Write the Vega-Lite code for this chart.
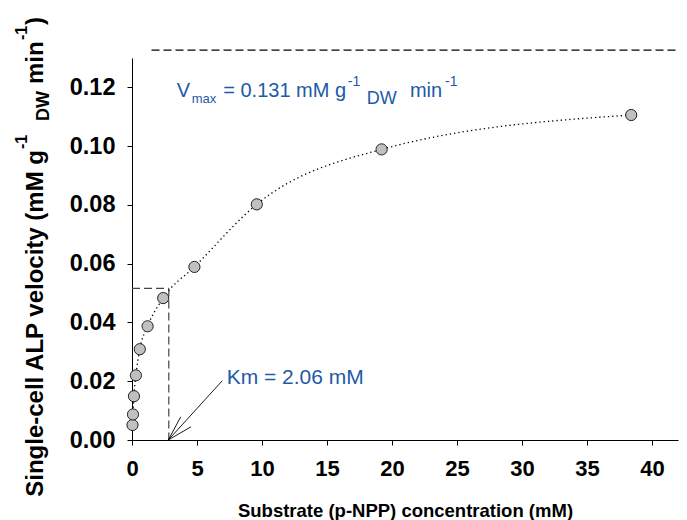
{
  "$schema": "https://vega.github.io/schema/vega-lite/v6.json",
  "width": 546,
  "height": 382,
  "autosize": {"type": "none"},
  "padding": {"left": 132, "top": 58, "right": 9, "bottom": 80},
  "background": "white",
  "config": {
    "view": {"stroke": null},
    "font": "Liberation Sans",
    "axis": {
      "grid": false,
      "domainColor": "#000",
      "domainWidth": 1,
      "tickColor": "#000",
      "tickWidth": 1,
      "tickSize": 5,
      "labelColor": "#000",
      "titleColor": "#000",
      "labelFont": "Liberation Sans",
      "labelFontWeight": "bold",
      "labelFontSize": 22,
      "titleFont": "Liberation Sans",
      "titleFontWeight": "bold",
      "titleFontSize": 18.5
    }
  },
  "datasets": {
    "pts": [
      {"s": 0.0375, "v": 0.0051},
      {"s": 0.075, "v": 0.0087},
      {"s": 0.15, "v": 0.0149},
      {"s": 0.3, "v": 0.0220},
      {"s": 0.6, "v": 0.0309},
      {"s": 1.2, "v": 0.0387},
      {"s": 2.4, "v": 0.0483},
      {"s": 4.8, "v": 0.0589},
      {"s": 9.6, "v": 0.0802},
      {"s": 19.2, "v": 0.0989},
      {"s": 38.4, "v": 0.1106}
    ]
  },
  "layer": [
    {
      "data": {"values": [{"x": 1.5, "x2": 42.1, "y": 0.1327, "y2": 0.1327}]},
      "mark": {"type": "rule", "color": "#000", "strokeWidth": 1.2, "strokeDash": [8, 4]},
      "encoding": {
        "x": {"field": "x", "type": "quantitative", "scale": {"domain": [0, 42], "nice": false, "zero": false},
          "axis": {"values": [0, 5, 10, 15, 20, 25, 30, 35, 40], "labelFlush": false, "labelPadding": 13, "title": "Substrate (p-NPP) concentration (mM)", "titlePadding": 22}},
        "x2": {"field": "x2"},
        "y": {"field": "y", "type": "quantitative", "scale": {"domain": [0, 0.13], "nice": false, "zero": false},
          "axis": {"values": [0, 0.02, 0.04, 0.06, 0.08, 0.1, 0.12], "format": ".2f", "labelFontSize": 23.5, "labelFlush": false, "labelPadding": 12, "title": null}},
        "y2": {"field": "y2"}
      }
    },
    {
      "data": {"values": [
        {"x": 0, "x2": 2.83, "y": 0.0516, "y2": 0.0516},
        {"x": 2.83, "x2": 2.83, "y": 0.0516, "y2": 0}
      ]},
      "mark": {"type": "rule", "color": "#444", "strokeWidth": 1.2, "strokeDash": [8, 4]},
      "encoding": {
        "x": {"field": "x", "type": "quantitative"},
        "x2": {"field": "x2"},
        "y": {"field": "y", "type": "quantitative"},
        "y2": {"field": "y2"}
      }
    },
    {
      "data": {"values": [
        {"x": 2.79, "x2": 6.95, "y": 0, "y2": 0.0202},
        {"x": 2.79, "x2": 3.75, "y": 0, "y2": 0.0079},
        {"x": 2.79, "x2": 4.54, "y": 0, "y2": 0.0045}
      ]},
      "mark": {"type": "rule", "color": "#000", "strokeWidth": 0.9},
      "encoding": {
        "x": {"field": "x", "type": "quantitative"},
        "x2": {"field": "x2"},
        "y": {"field": "y", "type": "quantitative"},
        "y2": {"field": "y2"}
      }
    },
    {
      "data": {"name": "pts"},
      "mark": {"type": "line", "color": "#000", "strokeWidth": 1.3, "strokeDash": [1.3, 3], "interpolate": "monotone"},
      "encoding": {
        "x": {"field": "s", "type": "quantitative"},
        "y": {"field": "v", "type": "quantitative"},
        "order": {"field": "s"}
      }
    },
    {
      "data": {"name": "pts"},
      "mark": {"type": "point", "shape": "circle", "filled": true, "size": 125, "fill": "#c0c0c0", "stroke": "#222", "strokeWidth": 1, "opacity": 1},
      "encoding": {
        "x": {"field": "s", "type": "quantitative"},
        "y": {"field": "v", "type": "quantitative"}
      }
    },
    {
      "data": {"values": [
        {"x": 3.44, "y": 0.11683, "t": "V"},
        {"x": 7.02, "y": 0.11683, "t": "= 0.131 mM g"},
        {"x": 21.38, "y": 0.11683, "t": "min"}
      ]},
      "mark": {"type": "text", "align": "left", "baseline": "alphabetic", "fontSize": 20, "color": "#1E5AA8", "font": "Liberation Sans"},
      "encoding": {
        "x": {"field": "x", "type": "quantitative"},
        "y": {"field": "y", "type": "quantitative"},
        "text": {"field": "t"}
      }
    },
    {
      "data": {"values": [{"x": 4.59, "y": 0.11479, "t": "max"}]},
      "mark": {"type": "text", "align": "left", "baseline": "alphabetic", "fontSize": 13, "color": "#1E5AA8", "font": "Liberation Sans"},
      "encoding": {
        "x": {"field": "x", "type": "quantitative"},
        "y": {"field": "y", "type": "quantitative"},
        "text": {"field": "t"}
      }
    },
    {
      "data": {"values": [
        {"x": 16.6, "y": 0.12047, "t": "-1"},
        {"x": 24.08, "y": 0.12047, "t": "-1"}
      ]},
      "mark": {"type": "text", "align": "left", "baseline": "alphabetic", "fontSize": 14, "color": "#1E5AA8", "font": "Liberation Sans"},
      "encoding": {
        "x": {"field": "x", "type": "quantitative"},
        "y": {"field": "y", "type": "quantitative"},
        "text": {"field": "t"}
      }
    },
    {
      "data": {"values": [{"x": 18.05, "y": 0.11434, "t": "DW"}]},
      "mark": {"type": "text", "align": "left", "baseline": "alphabetic", "fontSize": 18, "color": "#1E5AA8", "font": "Liberation Sans"},
      "encoding": {
        "x": {"field": "x", "type": "quantitative"},
        "y": {"field": "y", "type": "quantitative"},
        "text": {"field": "t"}
      }
    },
    {
      "data": {"values": [{"x": 7.28, "y": 0.01906, "t": "Km = 2.06 mM"}]},
      "mark": {"type": "text", "align": "left", "baseline": "alphabetic", "fontSize": 21, "color": "#1E5AA8", "font": "Liberation Sans"},
      "encoding": {
        "x": {"field": "x", "type": "quantitative"},
        "y": {"field": "y", "type": "quantitative"},
        "text": {"field": "t"}
      }
    },
    {
      "data": {"values": [{"x": -6.846, "y": 0.09869, "t": "Single-cell ALP velocity (mM g"}]},
      "mark": {"type": "text", "align": "right", "baseline": "alphabetic", "angle": 270, "fontSize": 24, "fontWeight": "bold", "color": "#000", "font": "Liberation Sans"},
      "encoding": {
        "x": {"field": "x", "type": "quantitative"},
        "y": {"field": "y", "type": "quantitative"},
        "text": {"field": "t"}
      }
    },
    {
      "data": {"values": [
        {"x": -6.846, "y": 0.12115, "t": "min"},
        {"x": -6.846, "y": 0.14123, "t": ")"}
      ]},
      "mark": {"type": "text", "align": "left", "baseline": "alphabetic", "angle": 270, "fontSize": 24, "fontWeight": "bold", "color": "#000", "font": "Liberation Sans"},
      "encoding": {
        "x": {"field": "x", "type": "quantitative"},
        "y": {"field": "y", "type": "quantitative"},
        "text": {"field": "t"}
      }
    },
    {
      "data": {"values": [
        {"x": -8.077, "y": 0.09903, "t": "-1"},
        {"x": -8.077, "y": 0.13612, "t": "-1"}
      ]},
      "mark": {"type": "text", "align": "left", "baseline": "alphabetic", "angle": 270, "fontSize": 16, "fontWeight": "bold", "color": "#000", "font": "Liberation Sans"},
      "encoding": {
        "x": {"field": "x", "type": "quantitative"},
        "y": {"field": "y", "type": "quantitative"},
        "text": {"field": "t"}
      }
    },
    {
      "data": {"values": [{"x": -6.385, "y": 0.10856, "t": "DW"}]},
      "mark": {"type": "text", "align": "left", "baseline": "alphabetic", "angle": 270, "fontSize": 18, "fontWeight": "bold", "color": "#000", "font": "Liberation Sans"},
      "encoding": {
        "x": {"field": "x", "type": "quantitative"},
        "y": {"field": "y", "type": "quantitative"},
        "text": {"field": "t"}
      }
    }
  ]
}
